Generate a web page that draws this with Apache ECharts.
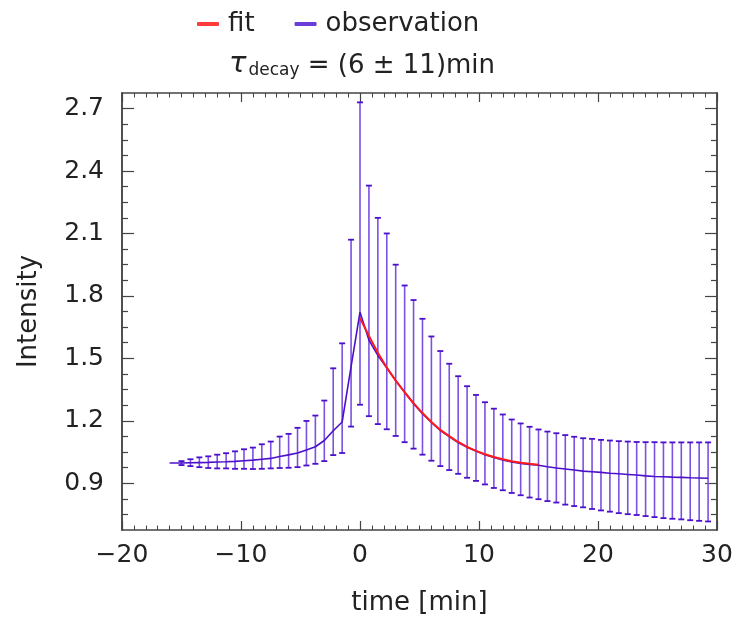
<!DOCTYPE html>
<html><head><meta charset="utf-8">
<script src="https://cdn.jsdelivr.net/npm/echarts@6/dist/echarts.min.js"></script>
<style>html,body{margin:0;padding:0;background:#fff}#c{width:738px;height:628px}</style>
</head><body><div id="c"></div><script>
// ---- data ----
const times = [-16, -15, -14.25, -13.5, -12.75, -12, -11.25, -10.5, -9.75, -9, -8.25, -7.5, -6.75, -6, -5.25, -4.5, -3.75, -3, -2.25, -1.5, -0.75,
  0, 0.75, 1.5, 2.25, 3, 3.75, 4.5, 5.25, 6, 6.75, 7.5, 8.25, 9, 9.75, 10.5, 11.25, 12, 12.75, 13.5, 14.25, 15,
  15.75, 16.5, 17.25, 18, 18.75, 19.5, 20.25, 21, 21.75, 22.5, 23.25, 24, 24.75, 25.5, 26.25, 27, 27.75, 28.5, 29.25];
const observation = [0.997, 0.997, 0.998, 0.999, 1.000, 1.002, 1.003, 1.005, 1.008, 1.011, 1.015, 1.019, 1.028, 1.036, 1.045, 1.060, 1.075, 1.105, 1.152, 1.194, 1.46,
  1.722, 1.588, 1.514, 1.455, 1.393, 1.337, 1.282, 1.234, 1.192, 1.153, 1.124, 1.095, 1.073, 1.055, 1.037, 1.024, 1.011, 1.002, 0.995, 0.990, 0.986,
  0.979, 0.973, 0.968, 0.963, 0.958, 0.955, 0.952, 0.948, 0.945, 0.942, 0.939, 0.935, 0.932, 0.931, 0.929, 0.928, 0.926, 0.925, 0.924];
const upperErr = [null, 1.006, 1.015, 1.024, 1.029, 1.037, 1.044, 1.053, 1.063, 1.071, 1.087, 1.100, 1.124, 1.137, 1.166, 1.199, 1.225, 1.297, 1.452, 1.572, 2.07,
  2.73, 2.33, 2.175, 2.10, 1.95, 1.85, 1.78, 1.69, 1.605, 1.535, 1.474, 1.414, 1.366, 1.324, 1.289, 1.258, 1.230, 1.206, 1.187, 1.171, 1.158,
  1.148, 1.140, 1.131, 1.123, 1.116, 1.113, 1.108, 1.105, 1.102, 1.100, 1.098, 1.097, 1.097, 1.096, 1.096, 1.096, 1.096, 1.096, 1.096];
const lowerErr = [null, 0.987, 0.982, 0.977, 0.973, 0.971, 0.971, 0.969, 0.969, 0.968, 0.969, 0.971, 0.973, 0.974, 0.977, 0.985, 0.993, 1.006, 1.035, 1.045, 1.172,
  1.277, 1.222, 1.184, 1.159, 1.127, 1.097, 1.066, 1.037, 1.008, 0.982, 0.963, 0.945, 0.926, 0.911, 0.894, 0.877, 0.866, 0.853, 0.842, 0.831, 0.823,
  0.814, 0.807, 0.797, 0.790, 0.784, 0.776, 0.769, 0.763, 0.756, 0.751, 0.747, 0.742, 0.737, 0.732, 0.729, 0.726, 0.722, 0.719, 0.716];
const fitTimes = [0, 0.75, 1.5, 2.25, 3, 3.75, 4.5, 5.25, 6, 6.75, 7.5, 8.25, 9, 9.75, 10.5, 11.25, 12, 12.75, 13.5, 14.25, 15];
const fitValues = [1.693, 1.608, 1.527, 1.455, 1.393, 1.337, 1.285, 1.237, 1.194, 1.156, 1.126, 1.098, 1.074, 1.055, 1.039, 1.026, 1.015, 1.005, 0.998, 0.993, 0.989];
const yTickLabels = [0.9, 1.2, 1.5, 1.8, 2.1, 2.4, 2.7];
const yMinorTicks = [0.75, 0.825, 0.975, 1.05, 1.125, 1.275, 1.35, 1.425, 1.575, 1.65, 1.725, 1.875, 1.95, 2.025, 2.175, 2.25, 2.325, 2.475, 2.55, 2.625];
const legendNames = ['fit', 'observation'];
const titleText = '{tau|τ}{sub|decay}{m| = (6 ± 11)min}';

// ---- style ----
const FONT = 'DejaVu Sans';
const AX = '#444444';
const TXT = '#222222';
const PURPLE = '#4c10cc';
const BAR = '#7c50e2';
const RED = '#ff1a1a';
const Y_MIN = 0.675, Y_MAX = 2.775;

const chart = echarts.init(document.getElementById('c'), null, {renderer: 'canvas'});

function xAxisBase(pos, labels) {
  return {
    type: 'value', position: pos, min: -20, max: 30, interval: 10,
    axisLine: {show: true, onZero: false, lineStyle: {color: AX, width: 1.5}},
    axisTick: {show: true, inside: true, length: 9, lineStyle: {color: AX, width: 1.2}},
    minorTick: {show: true, splitNumber: 10, length: 4.5, lineStyle: {color: AX, width: 1}},
    splitLine: {show: false}, minorSplitLine: {show: false},
    axisLabel: labels ? {
      show: true, margin: 13, fontFamily: FONT, fontSize: 25, color: TXT,
      formatter: v => (v < 0 ? '\u2212' + (-v) : String(v))
    } : {show: false}
  };
}
function yAxisBase(pos, ticks, len, labels) {
  return {
    type: 'value', position: pos, min: Y_MIN, max: Y_MAX,
    axisLine: {show: true, onZero: false, lineStyle: {color: AX, width: 1.5}},
    axisTick: {show: true, inside: true, length: len, customValues: ticks, lineStyle: {color: AX, width: 1.2}},
    splitLine: {show: false},
    axisLabel: labels ? {
      show: true, margin: 18, customValues: yTickLabels, fontFamily: FONT, fontSize: 25, color: TXT,
      formatter: v => v.toFixed(1)
    } : {show: false}
  };
}

const yMain = yAxisBase('left', yTickLabels, 12, true);
yMain.name = 'Intensity';
yMain.nameLocation = 'middle';
yMain.nameGap = 80;
yMain.nameTextStyle = {fontFamily: FONT, fontSize: 26, color: TXT};
const xMain = xAxisBase('bottom', true);
xMain.name = 'time [min]';
xMain.nameLocation = 'middle';
xMain.nameGap = 60;
xMain.nameTextStyle = {fontFamily: FONT, fontSize: 26, color: TXT};

const errData = [];
times.forEach((t, i) => { if (upperErr[i] != null) errData.push([t, lowerErr[i], upperErr[i]]); });

const option = {
  animation: false,
  backgroundColor: '#ffffff',
  grid: {left: 122, right: 21, top: 93, bottom: 98, containLabel: false},
  title: {
    text: titleText, left: 357, textAlign: 'center', top: 42,
    textStyle: {
      fontFamily: FONT, fontSize: 26, color: TXT, fontWeight: 'normal',
      rich: {
        tau: {fontFamily: FONT, fontSize: 29, color: TXT, fontStyle: 'italic', lineHeight: 32, verticalAlign: 'bottom'},
        sub: {fontFamily: FONT, fontSize: 17, color: TXT, lineHeight: 17, padding: [16, 0, 0, 2], verticalAlign: 'bottom'},
        m: {fontFamily: FONT, fontSize: 26, color: TXT, lineHeight: 32, verticalAlign: 'bottom'}
      }
    }
  },
  legend: {
    data: [
      {name: legendNames[0], icon: 'roundRect', itemStyle: {color: '#ff3b3b'}},
      {name: legendNames[1], icon: 'roundRect', itemStyle: {color: '#6a3cd8'}}
    ],
    left: 192, top: 6, itemWidth: 22, itemHeight: 4, itemGap: 40,
    textStyle: {fontFamily: FONT, fontSize: 26, color: TXT, padding: [0, 0, 0, 4]}
  },
  xAxis: [xMain, xAxisBase('top', false)],
  yAxis: [yMain, yAxisBase('left', yMinorTicks, 6, false), yAxisBase('right', yTickLabels, 12, false), yAxisBase('right', yMinorTicks, 6, false)],
  series: [
    {
      type: 'custom', name: 'errors', xAxisIndex: 0, yAxisIndex: 0,
      data: errData, encode: {x: 0, y: [1, 2]}, z: 2,
      renderItem: function (params, api) {
        const x = api.value(0), lo = api.value(1), hi = api.value(2);
        const pLo = api.coord([x, lo]), pHi = api.coord([x, hi]);
        const hw = 3;
        return {
          type: 'group', children: [
            {type: 'line', shape: {x1: pLo[0], y1: pLo[1], x2: pHi[0], y2: pHi[1]}, style: {stroke: BAR, lineWidth: 1.6}},
            {type: 'line', shape: {x1: pHi[0] - hw, y1: pHi[1], x2: pHi[0] + hw, y2: pHi[1]}, style: {stroke: PURPLE, lineWidth: 1.8}},
            {type: 'line', shape: {x1: pLo[0] - hw, y1: pLo[1], x2: pLo[0] + hw, y2: pLo[1]}, style: {stroke: PURPLE, lineWidth: 1.8}}
          ]
        };
      }
    },
    {
      type: 'line', name: legendNames[1], xAxisIndex: 0, yAxisIndex: 0, z: 3,
      data: times.map((t, i) => [t, observation[i]]),
      showSymbol: false, symbol: 'none',
      lineStyle: {color: PURPLE, width: 1.6}, itemStyle: {color: '#6a3cd8'}
    },
    {
      type: 'line', name: legendNames[0], xAxisIndex: 0, yAxisIndex: 0, z: 4,
      data: fitTimes.map((t, i) => [t, fitValues[i]]),
      showSymbol: false, symbol: 'none',
      lineStyle: {color: RED, width: 2}, itemStyle: {color: '#ff3b3b'}
    }
  ]
};
chart.setOption(option);
</script></body></html>
